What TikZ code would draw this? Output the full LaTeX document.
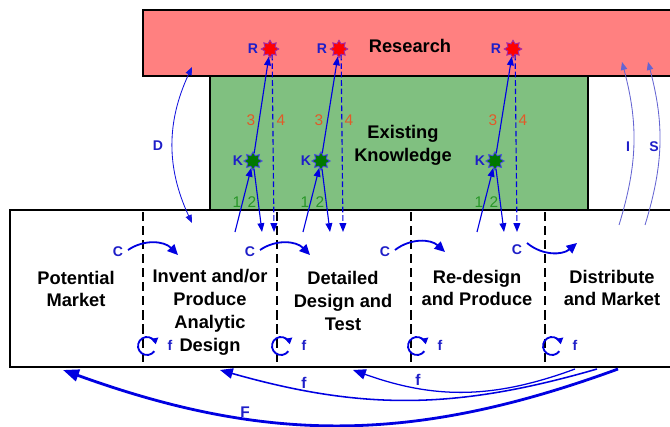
\documentclass[tikz,border=0pt]{standalone}
\usepackage{fontspec}
\setmainfont{Liberation Sans}
\usetikzlibrary{shapes.geometric, arrows.meta, positioning, calc}
\definecolor{cResearch}{RGB}{255,128,128}
\definecolor{cKnow}{RGB}{128,192,128}
\definecolor{cFlow}{RGB}{0,0,225}
\definecolor{cLabel}{RGB}{30,30,200}
\definecolor{cThin}{RGB}{100,100,210}
\definecolor{cOrange}{RGB}{225,90,40}
\definecolor{cGreen}{RGB}{40,150,40}
\definecolor{cStarR}{RGB}{160,40,170}
\definecolor{cStarK}{RGB}{0,120,0}
\tikzset{
	stage/.style={font=\bfseries\fontsize{13}{16.3}\selectfont, align=center, inner sep=0pt},
	area/.style={draw=black, line width=2pt},
	divider/.style={draw=black, line width=1.4pt, dash pattern=on 6.5pt off 3.5pt},
	lbl/.style={text=cLabel, font=\bfseries\fontsize{10}{12}\selectfont, inner sep=0pt},
	blbl/.style={text=cLabel, font=\bfseries\fontsize{11}{13}\selectfont, inner sep=0pt},
	num/.style={font=\fontsize{11}{13}\selectfont, inner sep=0pt},
	rstar/.style={star, star points=8, star point ratio=1.6, minimum size=12.5pt, inner sep=0pt, fill=red, draw=cStarR, line width=0.6pt},
	kstar/.style={star, star points=8, star point ratio=1.6, minimum size=13pt, inner sep=0pt, fill=cStarK, draw=cFlow!70, line width=0.6pt},
	link/.style={-{Triangle[length=2.2mm, width=1.7mm]}, cFlow, line width=0.8pt},
	cflow/.style={-{Triangle[length=2.6mm, width=2.4mm]}, cFlow, line width=1.3pt},
	loopy/.style={-{Triangle[length=1.5mm, width=1.8mm]}, cFlow, line width=1.3pt},
	bow/.style={cThin, line width=0.6pt},
	back/.style={-{Triangle[length=3.2mm, width=2.6mm]}, cFlow},
}
\begin{document}
\begin{tikzpicture}[x=0.25mm, y=0.25mm]
	\useasboundingbox (0,0) rectangle (670,-427);
	\clip (0,0) rectangle (670,-427);
	% areas
	\draw[area, fill=cResearch] (143,-10) rectangle (700,-76);
	\draw[area, fill=cKnow] (210,-76) rectangle (588,-210);
	\draw[area, fill=white] (10,-210) rectangle (700,-367);
	\foreach \x in {143,277,411,545}
		\draw[divider] (\x,-212) -- (\x,-366);
	% texts
	\node[stage] (research) at (410,-46) {Research};
	\node[stage] (existing) at (403,-145) {Existing\\Knowledge};
	\node[stage] (market) at (76,-289) {Potential\\Market};
	\node[stage] (invent) at (210,-312) {Invent and/or\\Produce\\Analytic\\Design};
	\node[stage] (detail) at (343,-301) {Detailed\\Design and\\Test};
	\node[stage] (redesign) at (477,-288) {Re-design\\and Produce};
	\node[stage] (distrib) at (612,-288) {Distribute\\and Market};
	% knowledge and research steps
	\foreach \i/\kx/\rx in {1/253/270, 2/321/339, 3/495/513}{
		\node[rstar] (r\i) at (\rx,-49) {};
		\node[kstar] (k\i) at (\kx,-161) {};
		\node[lbl] (rl\i) at (\rx-17,-49) {R};
		\node[lbl] (kl\i) at (\kx-15,-161) {K};
		\coordinate (a\i) at (\kx-18,-232);
		\coordinate (b\i) at (\kx+9,-232);
		\coordinate (d\i) at (\rx+4,-232);
		\draw[link] (a\i) -- (k\i);
		\draw[link] (k\i) -- (r\i);
		\draw[link] (k\i) -- (b\i);
		\draw[link, dash pattern=on 4pt off 2pt] (r\i.-70) -- (d\i);
		\node[num, text=cOrange] (t\i) at (\kx-2,-120) {3};
		\node[num, text=cOrange] (v\i) at (\kx+28,-120) {4};
		\node[num, text=cGreen] (o\i) at (\kx-16,-202) {1};
		\node[num, text=cGreen] (w\i) at (\kx-1,-202) {2};
	}
	% C steps
	\foreach \i/\sx/\sy/\ex/\ey in {1/128/250/178/255, 2/260/250/310/255, 3/395/250/445/252}{
		\coordinate (cs\i) at (\sx,-\sy);
		\coordinate (ce\i) at (\ex,-\ey);
		\draw[cflow] (cs\i) to[bend left=40] (ce\i);
		\node[lbl] (cl\i) at (\sx-10,-\sy-2) {C};
	}
	\coordinate (cs4) at (527,-243);
	\coordinate (ce4) at (577,-243);
	\draw[cflow] (cs4) to[bend right=40] (ce4);
	\node[lbl] (cl4) at (517,-250) {C};
	% f loops
	\foreach \i/\cx in {1/147, 2/281, 3/417, 4/552}{
		\coordinate (lc\i) at (\cx,-346);
		\draw[loopy] ($(lc\i)+(-35:9)$) arc[start angle=-35, end angle=-348, radius=9];
		\node[lbl] (fl\i) at (\cx+23,-345) {f};
	}
	% D, I, S
	\coordinate (d0) at (192,-223);
	\coordinate (d9) at (192,-67);
	\draw[bow, {Triangle[length=2mm, width=1.6mm]}-{Triangle[length=2mm, width=1.6mm]}, cFlow!80!cThin] (d0) to[bend left=25] (d9);
	\node[lbl] (dl) at (158,-146) {D};
	\coordinate (i0) at (619,-225);
	\coordinate (i9) at (622,-62);
	\draw[bow, -{Triangle[length=2mm, width=1.6mm]}] (i0) to[bend right=16] (i9);
	\node[lbl] (il) at (628,-147) {I};
	\coordinate (s0) at (645,-225);
	\coordinate (s9) at (648,-62);
	\draw[bow, -{Triangle[length=2mm, width=1.6mm]}] (s0) to[bend right=16] (s9);
	\node[lbl] (sl) at (654,-147) {S};
	% feedback
	\coordinate (fa0) at (618,-369);
	\coordinate (fa9) at (63,-370);
	\draw[back, line width=2pt, -{Triangle[length=4mm, width=3mm]}] (fa0) to[bend left=20] (fa9);
	\node[blbl] (bigf) at (245,-412) {F};
	\coordinate (fb0) at (597,-369);
	\coordinate (fb9) at (220,-370);
	\draw[back, line width=1.1pt] (fb0) to[bend left=16] (fb9);
	\node[blbl] (fbl) at (304,-383) {f};
	\coordinate (fc0) at (575,-369);
	\coordinate (fc9) at (353,-370);
	\draw[back, line width=0.9pt] (fc0) to[bend left=20] (fc9);
	\node[blbl] (fcl) at (418,-380) {f};
\end{tikzpicture}
\end{document}
